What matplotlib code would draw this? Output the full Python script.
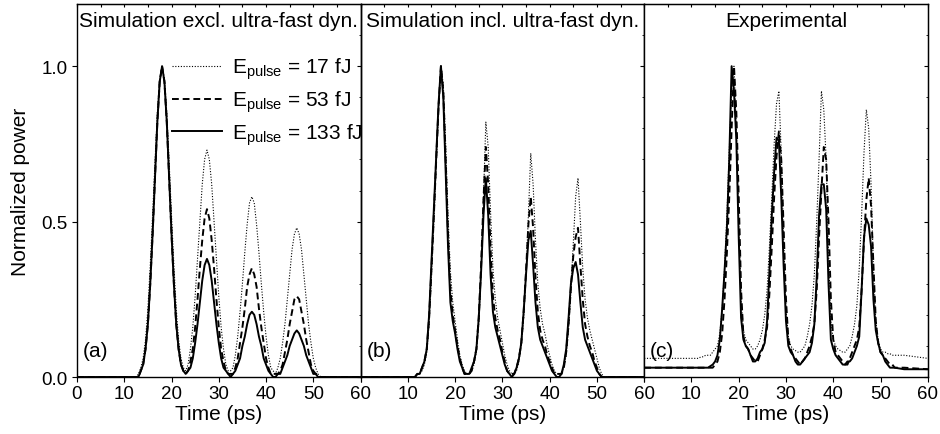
import matplotlib
matplotlib.use('Agg')
import matplotlib.pyplot as plt
import numpy as np

plt.rcParams['font.family'] = ['Liberation Sans', 'DejaVu Sans']
plt.rcParams['mathtext.fontset'] = 'custom'
plt.rcParams['mathtext.rm'] = 'Liberation Sans'
plt.rcParams['mathtext.it'] = 'Liberation Sans:italic'

# time grid (ps): 0, 5, then 10..53 every 0.5 ps, then 55, 60
time_ps = np.concatenate([[0, 5], np.arange(10, 53.5, 0.5), [55, 60]])

# (a) simulation excluding ultra-fast dynamics
sim_excl_17 = [0, 0,
    0, 0, 0, 0, 0, 0, .01,
    .03, .06, .12, .22, .36, .52, .69, .85, .96, 1.0, .96, .85, .69, .52, .36, .22, .12, .06, .03,
    .02, .04, .09, .16, .26, .38, .50, .62, .70, .73, .70, .62, .50, .38, .26, .16, .09, .04, .02,
    .02, .03, .07, .13, .21, .30, .40, .49, .56, .58, .56, .49, .40, .30, .21, .13, .07, .03, .02,
    .01, .03, .06, .11, .17, .25, .33, .41, .46, .48, .46, .41, .33, .25, .17, .11, .06, .03, .01,
    0, 0, 0, 0,
    0, 0]
sim_excl_53 = [0, 0,
    0, 0, 0, 0, 0, 0, 0,
    .02, .04, .09, .17, .30, .46, .64, .82, .95, 1.0, .95, .82, .64, .46, .30, .17, .09, .04, .02,
    .01, .02, .05, .09, .16, .25, .35, .44, .51, .54, .51, .44, .35, .25, .16, .09, .05, .02, .01,
    .01, .01, .03, .06, .11, .16, .22, .29, .33, .35, .33, .29, .22, .16, .11, .06, .03, .01, .01,
    .01, .01, .02, .04, .08, .12, .17, .21, .25, .26, .25, .21, .17, .12, .08, .04, .02, .01, .01,
    0, 0, 0, 0,
    0, 0]
sim_excl_133 = [0, 0,
    0, 0, 0, 0, 0, 0, 0,
    .02, .04, .09, .17, .30, .46, .64, .82, .95, 1.0, .95, .82, .64, .46, .30, .17, .09, .04, .02,
    .01, .02, .03, .06, .11, .17, .24, .31, .36, .38, .36, .31, .24, .17, .11, .06, .03, .02, .01,
    0, .01, .02, .04, .06, .10, .13, .17, .20, .21, .20, .17, .13, .10, .06, .04, .02, .01, 0,
    0, .01, .01, .03, .05, .07, .10, .12, .14, .15, .14, .12, .10, .07, .05, .03, .01, .01, 0,
    0, 0, 0, 0,
    0, 0]

# (b) simulation including ultra-fast dynamics
sim_incl_17 = [0, 0,
    0, 0, 0, 0, .01, .01, .02, .04, .08, .17,
    .33, .50, .68, .86, 1.0, .94, .75, .52, .34, .24,
    .18, .12, .07, .04, .02, .01, .01, .02, .04, .08,
    .17, .34, .58, .82, .74, .53, .35, .25, .19, .15,
    .11, .07, .04, .02, .01, .01, .02, .05, .10, .19,
    .33, .52, .72, .62, .44, .30, .22, .17, .14, .10,
    .07, .04, .02, .01, .01, .01, .03, .07, .15, .28,
    .43, .58, .64, .50, .35, .25, .19, .15, .12, .09,
    .06, .03, .01, 0, 0, 0, 0,
    0, 0]
sim_incl_53 = [0, 0,
    0, 0, 0, 0, .01, .01, .03, .05, .09, .19,
    .35, .52, .70, .87, 1.0, .92, .70, .46, .28, .20,
    .15, .10, .06, .03, .01, .01, .01, .02, .05, .09,
    .19, .36, .57, .74, .62, .41, .26, .19, .15, .12,
    .08, .05, .02, .01, .01, .01, .03, .06, .11, .21,
    .34, .49, .58, .48, .32, .21, .15, .12, .10, .07,
    .05, .03, .01, .01, .01, .01, .03, .08, .17, .29,
    .39, .45, .48, .36, .25, .17, .13, .10, .08, .05,
    .03, .01, 0, 0, 0, 0, 0,
    0, 0]
sim_incl_133 = [0, 0,
    0, 0, 0, 0, .01, .01, .03, .05, .09, .20,
    .37, .54, .71, .88, 1.0, .90, .66, .42, .24, .18,
    .14, .09, .05, .03, .01, .01, .01, .03, .05, .09,
    .19, .34, .52, .64, .52, .33, .21, .16, .13, .10,
    .07, .04, .02, .01, 0, .01, .03, .06, .11, .21,
    .33, .44, .47, .36, .24, .16, .12, .10, .08, .06,
    .04, .02, .01, 0, 0, .01, .04, .09, .19, .30,
    .35, .37, .33, .24, .16, .12, .10, .08, .06, .04,
    .02, .01, 0, 0, 0, 0, 0,
    0, 0]

# (c) experimental
exp_17 = [.06, .06,
    .06, .06, .06, .06, .065, .065, .07, .07, .07, .08,
    .09, .10, .14, .22, .35, .52, .73, .92, 1.0, .80,
    .50, .25, .15, .12, .11, .10, .09, .09, .10, .12,
    .15, .20, .28, .42, .58, .75, .88, .92, .72, .45,
    .22, .13, .10, .09, .085, .08, .08, .09, .10, .13,
    .17, .23, .33, .50, .70, .92, .86, .70, .40, .18,
    .12, .10, .09, .085, .08, .08, .09, .10, .13, .17,
    .23, .35, .52, .72, .86, .80, .62, .35, .18, .12,
    .09, .08, .08, .075, .075, .07, .07,
    .07, .06]
exp_53 = [.03, .03,
    .03, .03, .03, .03, .03, .03, .03, .03, .03, .03,
    .04, .05, .08, .14, .25, .40, .58, .80, 1.0, .85,
    .58, .28, .13, .10, .09, .07, .06, .05, .05, .07,
    .09, .12, .16, .27, .42, .58, .71, .79, .70, .48,
    .25, .12, .09, .07, .06, .05, .04, .05, .06, .08,
    .10, .13, .17, .28, .45, .60, .74, .70, .50, .25,
    .12, .08, .07, .06, .05, .04, .04, .06, .08, .10,
    .12, .16, .28, .44, .57, .64, .55, .36, .18, .11,
    .08, .07, .06, .05, .04, .04, .03,
    .03, .025]
exp_133 = [.03, .03,
    .03, .03, .03, .03, .03, .03, .03, .03, .035, .04,
    .05, .07, .12, .22, .34, .48, .70, 1.0, .92, .76,
    .45, .19, .12, .10, .09, .07, .05, .05, .06, .08,
    .09, .11, .18, .34, .52, .66, .77, .76, .58, .36,
    .18, .10, .08, .07, .05, .04, .04, .05, .06, .07,
    .08, .11, .17, .32, .52, .62, .62, .54, .30, .12,
    .09, .07, .06, .05, .04, .04, .05, .05, .06, .08,
    .10, .13, .28, .45, .51, .49, .42, .25, .15, .11,
    .08, .07, .05, .04, .03, .03, .03,
    .025, .025]

panel_titles = ['Simulation excl. ultra-fast dyn.', 'Simulation incl. ultra-fast dyn.', 'Experimental']
panel_tags = ['(a)', '(b)', '(c)']
legend_labels = [r'$\mathrm{E_{pulse}}$ = 17 fJ', r'$\mathrm{E_{pulse}}$ = 53 fJ', r'$\mathrm{E_{pulse}}$ = 133 fJ']
panels = [(sim_excl_17, sim_excl_53, sim_excl_133),
          (sim_incl_17, sim_incl_53, sim_incl_133),
          (exp_17, exp_53, exp_133)]

dotted = dict(color='k', lw=0.8, dashes=(1, 1.5))
dashed = dict(color='k', lw=1.4, dashes=(3.5, 2))
solid = dict(color='k', lw=1.4, ls='-')

fig, axes = plt.subplots(1, 3, figsize=(9.4, 4.35), dpi=100, sharey=True)
fig.subplots_adjust(left=0.0819, right=0.987, bottom=0.131, top=0.9885, wspace=0)

for i, ax in enumerate(axes):
    y17, y53, y133 = panels[i]
    l1, = ax.plot(time_ps, y17, **dotted)
    l2, = ax.plot(time_ps, y53, **dashed)
    l3, = ax.plot(time_ps, y133, **solid)

    ax.set_xlim(0, 60)
    ax.set_ylim(0, 1.2)
    ax.set_xticks(range(0, 61, 10))
    xl = [str(v) for v in range(0, 61, 10)]
    if i > 0:
        xl[0] = ''
    ax.set_xticklabels(xl)
    ax.tick_params(axis='x', direction='out', length=3.6, width=0.8, pad=2.5, labelsize=13.5)
    ax.set_yticks([0, 0.5, 1.0])
    ax.set_yticklabels(['0.0', '0.5', '1.0'])
    if i == 0:
        ax.tick_params(axis='y', direction='out', length=3.6, width=0.8, pad=3, labelsize=13.5)
        ax.set_ylabel('Normalized power', fontsize=15, labelpad=8)
    else:
        ax.tick_params(axis='y', left=False, labelleft=False)
    for s in ax.spines.values():
        s.set_linewidth(1.0)

    top = ax.secondary_xaxis('top')
    top.set_xticks(range(0, 61, 5))
    top.tick_params(direction='in', length=2.5, width=0.8, labeltop=False)
    right = ax.secondary_yaxis('right')
    right.set_yticks([0, 0.5, 1.0])
    right.set_yticks(np.arange(0, 1.21, 0.1), minor=True)
    right.tick_params(direction='in', length=3, width=0.8, labelright=False)
    right.tick_params(which='minor', direction='in', length=1.5, width=0.6)

    ax.set_xlabel('Time (ps)', fontsize=15, labelpad=1)
    ax.text(0.5, 0.957, panel_titles[i], transform=ax.transAxes, ha='center', va='center', fontsize=15)
    ax.text(0.02, 0.045, panel_tags[i], transform=ax.transAxes, ha='left', va='bottom', fontsize=15)

    if i == 0:
        leg = ax.legend([l1, l2, l3], legend_labels, loc='upper left', bbox_to_anchor=(0.335, 0.861),
                        frameon=False, fontsize=15, handlelength=2.4, handletextpad=0.48,
                        labelspacing=0.35, borderpad=0, borderaxespad=0)

# legend of (a) runs over into (b), so keep (a) on top
axes[0].set_zorder(3)
axes[0].patch.set_alpha(0)

fig.savefig('out.png', dpi=100)
